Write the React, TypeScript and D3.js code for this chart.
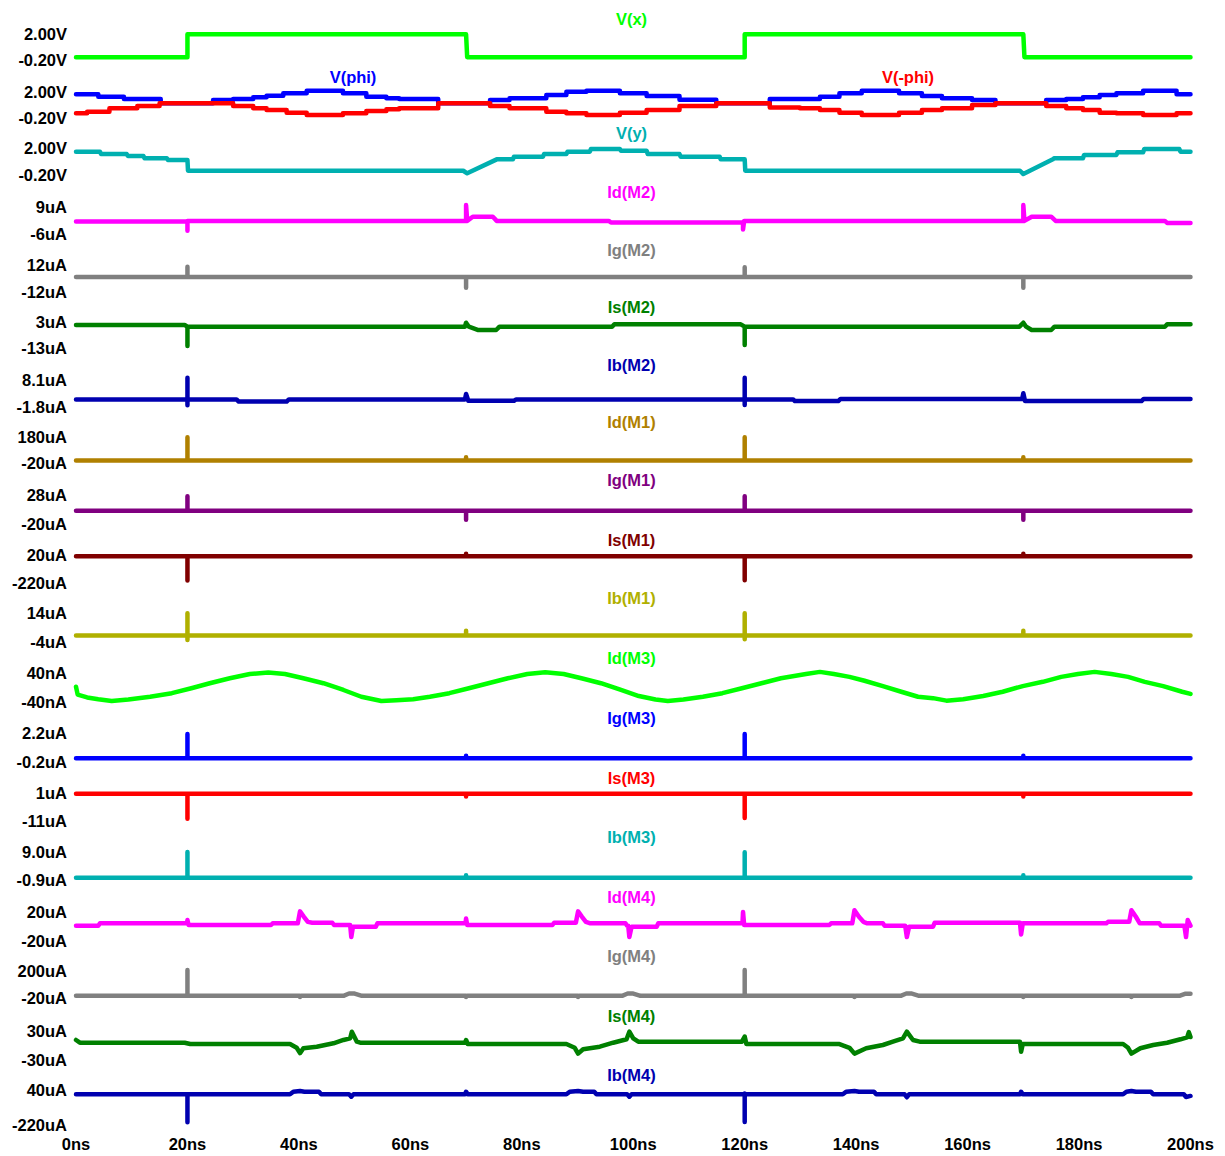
import { useEffect, useRef } from "react";
import * as d3 from "d3";

type Pt = [number, number];

const WIDTH = 1225;
const HEIGHT = 1156;

const TIME_TICKS = [0, 20, 40, 60, 80, 100, 120, 140, 160, 180, 200];
const TIME_LABELS = ["0ns", "20ns", "40ns", "60ns", "80ns", "100ns", "120ns", "140ns", "160ns", "180ns", "200ns"];

// pane ranges (value at top label, value at bottom label)
const PANE_TOP_VALUES = [2, 2, 2, 9, 12, 3, 8.1, 180, 28, 20, 14, 40, 2.2, 1, 9, 20, 200, 30, 40];
const PANE_BOTTOM_VALUES = [-0.2, -0.2, -0.2, -6, -12, -13, -1.8, -20, -20, -220, -4, -40, -0.2, -11, -0.9, -20, -20, -30, -220];
const PANE_TOP_LABELS = ["2.00V", "2.00V", "2.00V", "9uA", "12uA", "3uA", "8.1uA", "180uA", "28uA", "20uA", "14uA", "40nA", "2.2uA", "1uA", "9.0uA", "20uA", "200uA", "30uA", "40uA"];
const PANE_BOTTOM_LABELS = ["-0.20V", "-0.20V", "-0.20V", "-6uA", "-12uA", "-13uA", "-1.8uA", "-20uA", "-20uA", "-220uA", "-4uA", "-40nA", "-0.2uA", "-11uA", "-0.9uA", "-20uA", "-20uA", "-30uA", "-220uA"];

// layout of the stacked panes (pixel rows of the top / bottom labels)
const PANE_TOP_PX = [33.7, 91.7, 148.3, 206.7, 265, 321.7, 380, 436.7, 495, 555, 613.3, 673.3, 732.7, 793.3, 851.7, 911.7, 970.7, 1030.7, 1090];
const PANE_BOTTOM_PX = [60, 118.3, 175, 234, 291.7, 348.3, 406.7, 462.7, 524, 582.7, 641.7, 701.7, 761.7, 820.7, 880, 940.7, 998.3, 1060, 1125];

// series: [time ns, value]
const vX: Pt[] = [[0, 0.03], [20, 0.03], [20, 1.95], [70, 1.95], [70.2, 0.03], [120, 0.03], [120, 1.95], [170, 1.95], [170.2, 0.03], [200, 0.03]];

const vPhi: Pt[] = [[0, 1.78], [4, 1.59], [8.6, 1.4], [15.2, 1.04], [24.6, 1.31], [28.2, 1.4], [31.8, 1.54], [34.2, 1.67], [37.2, 1.87], [41.4, 2.08], [47.9, 1.87], [52.1, 1.59], [55.7, 1.45], [58, 1.4], [65, 1.04], [74.3, 1.31], [77.8, 1.45], [84.4, 1.73], [88, 2.0], [91.6, 2.08], [97.6, 1.87], [102.4, 1.65], [108.3, 1.34], [114.9, 1.04], [124.5, 1.4], [133.5, 1.59], [137, 1.87], [141, 2.08], [147.7, 1.87], [151.8, 1.65], [155.4, 1.45], [160.8, 1.31], [165, 1.04], [174.1, 1.31], [177.7, 1.4], [180.7, 1.54], [183.7, 1.73], [186.7, 1.87], [191.5, 2.08], [197.5, 1.78], [200, 1.78]];

const vNegPhi: Pt[] = [[0, 0.21], [2, 0.35], [6, 0.63], [11, 0.82], [15, 1.04], [28.2, 0.82], [31.8, 0.63], [34.2, 0.49], [37.8, 0.26], [41.4, 0.07], [47.9, 0.21], [52.1, 0.41], [55.7, 0.54], [58, 0.63], [65, 1.04], [74.3, 0.82], [77.8, 0.63], [84.4, 0.35], [88, 0.21], [91.6, 0.07], [97.6, 0.26], [102.4, 0.49], [108.3, 0.82], [114.9, 1.04], [124.5, 0.7], [129.9, 0.63], [133.5, 0.49], [137, 0.26], [141, 0.07], [147.7, 0.26], [151.8, 0.49], [155.4, 0.63], [160.8, 0.9], [165, 1.04], [174.1, 0.82], [177.7, 0.63], [180.7, 0.49], [183.7, 0.26], [186.7, 0.21], [191.5, 0.07], [197.5, 0.21], [200, 0.21]];

const vY: Pt[] = [[0, 1.72], [4.3, 1.72], [4.5, 1.53], [9.1, 1.53], [9.3, 1.37], [12.1, 1.37], [12.3, 1.18], [16.3, 1.18], [16.5, 1.04], [20, 1.04], [20.1, 0.15], [69.5, 0.15], [70.2, -0.06], [75.5, 1.09], [78.4, 1.09], [78.6, 1.31], [83.8, 1.31], [84, 1.53], [88, 1.53], [88.2, 1.72], [92.2, 1.72], [92.4, 1.94], [97.6, 1.94], [97.8, 1.8], [102.4, 1.8], [102.6, 1.53], [108.3, 1.53], [108.5, 1.31], [115.5, 1.31], [115.7, 1.09], [120, 1.09], [120.1, 0.15], [169.4, 0.15], [170, -0.12], [175.3, 1.09], [175.5, 1.18], [180.7, 1.18], [180.9, 1.45], [186.7, 1.45], [186.9, 1.67], [191.5, 1.67], [191.7, 1.94], [198, 1.94], [198.2, 1.72], [200, 1.72]];

const idM2: Pt[] = [[0, 0.8], [20, 0.8], [20, -4.2], [20, 1.2], [70, 1.2], [70, 9.9], [70.2, 1.2], [71.2, 3.5], [74.8, 3.5], [75.5, 1.2], [95.6, 1.2], [96, 0.3], [119.7, 0.3], [119.7, -3.5], [119.9, 1.2], [170, 1.2], [170, 9.9], [170.2, 1.2], [171.5, 3.5], [175, 3.5], [175.8, 1.2], [195.4, 1.2], [195.8, 0.1], [200, 0.1]];

const igM2: Pt[] = [[0, 1.2], [20, 1.2], [20, 10.5], [20, 1.2], [70, 1.2], [70, -8.5], [70, 1.2], [120, 1.2], [120, 10], [120, 1.2], [170, 1.2], [170, -8.5], [170, 1.2], [200, 1.2]];

const isM2: Pt[] = [[0, 1.0], [19.5, 1.0], [20, 0], [20, -11.6], [20, 0], [69.8, 0], [70, 2.4], [70.5, 0], [72.2, -2], [75.4, -2], [76, 0], [96.2, 0], [96.6, 1.4], [119.3, 1.4], [120, 0], [120, -11], [120, 0], [169.3, 0], [170, 2.4], [170.5, 0], [171.5, -2], [175, -2], [175.6, 0], [195.4, 0], [195.8, 1.4], [200, 1.4]];

const ibM2: Pt[] = [[0, 0.9], [20, 0.9], [20, 8.9], [20, -1.3], [20, 0.9], [28.8, 0.9], [29.2, 0.1], [37.8, 0.1], [38.2, 0.9], [69.8, 0.9], [70, 2.9], [70.4, 0.4], [78.6, 0.4], [79, 0.9], [120, 0.9], [120, 8.9], [120, -1.2], [120, 0.9], [128.7, 0.9], [129, 0.3], [136.8, 0.3], [137.2, 1.1], [169.8, 1.1], [170, 3.2], [170.3, 0.3], [191.2, 0.3], [191.6, 1.1], [200, 1.1]];

const idM1: Pt[] = [[0, -3], [20, -3], [20, 175], [20, -3], [70, -3], [70, 22], [70, -3], [120, -3], [120, 175], [120, -3], [170, -3], [170, 22], [170, -3], [200, -3]];

const igM1: Pt[] = [[0, 2], [20, 2], [20, 26], [20, 2], [70, 2], [70, -13], [70, 2], [120, 2], [120, 26], [120, 2], [170, 2], [170, -13], [170, 2], [200, 2]];

const isM1: Pt[] = [[0, 10], [20, 10], [20, -200], [20, 10], [70, 10], [70, 30], [70, 10], [120, 10], [120, -198], [120, 10], [170, 10], [170, 30], [170, 10], [200, 10]];

const ibM1: Pt[] = [[0, 0], [20, 0], [20, 14], [20, -2.9], [20, 0], [70, 0], [70, 3], [70, 0], [120, 0], [120, 14], [120, -2.5], [120, 0], [170, 0], [170, 3], [170, 0], [200, 0]];

// nA
const idM3: Pt[] = [[0, 2], [0.3, -20], [2, -28], [4, -33], [6.4, -38], [9.4, -34], [13.3, -26], [17.2, -16], [20.7, -2], [24, 12], [27.6, 26], [31.2, 38], [34.5, 42], [37.5, 38], [40.8, 26], [44.4, 12], [48, -7], [51.2, -26], [54.8, -38], [57.5, -36], [60.5, -33], [63.5, -26], [67, -16], [70.5, -2], [74, 12], [77.5, 26], [81, 38], [84.2, 43], [87.5, 38], [90.7, 26], [94.2, 12], [97.8, -7], [101, -24], [104, -34], [106.2, -38], [109, -34], [112.5, -26], [116, -16], [119.5, -2], [123, 12], [126.5, 26], [131, 38], [133.5, 44], [136, 38], [138.8, 30], [141.5, 19], [144.8, 4], [148.1, -12], [151.1, -26], [153.8, -30], [156.2, -37], [159.2, -33], [162.8, -24], [166.3, -12], [169.9, 4], [173.5, 16], [176.8, 30], [179.8, 38], [182.8, 44], [185.8, 38], [188.8, 30], [191.8, 16], [195.1, 4], [198.5, -12], [200, -18]];

const igM3: Pt[] = [[0, 0.08], [20, 0.08], [20, 2.1], [20, 0.08], [70, 0.08], [70, 0.3], [70, 0.08], [120, 0.08], [120, 2.1], [120, 0.08], [170, 0.08], [170, 0.3], [170, 0.08], [200, 0.08]];

const isM3: Pt[] = [[0, 0.8], [20, 0.8], [20, -10.1], [20, 0.8], [70, 0.8], [70, -0.4], [70, 0.8], [120, 0.8], [120, -9.8], [120, 0.8], [170, 0.8], [170, -0.4], [170, 0.8], [200, 0.8]];

const ibM3: Pt[] = [[0, -0.1], [20, -0.1], [20, 8.9], [20, -0.1], [70, -0.1], [70, 0.8], [70, -0.1], [120, -0.1], [120, 8.8], [120, -0.1], [170, -0.1], [170, 0.8], [170, -0.1], [200, -0.1]];

const idM4: Pt[] = [[0, 0.7], [4, 0.7], [4.3, 4], [19.9, 4], [20, 8.5], [20.2, 1.7], [35, 1.7], [35.3, 4], [39.8, 4], [40.2, 20.5], [40.9, 13], [41.6, 6], [42.4, 4.8], [46, 4.8], [46.3, 1.7], [49.2, 1.7], [49.4, -15], [49.7, -0.7], [53.8, -0.7], [54.1, 4], [69.9, 4], [70, 10.5], [70.2, 1.7], [85.5, 1.7], [85.8, 4.8], [89.7, 4.8], [90.1, 20.5], [90.8, 13], [91.5, 6], [92.3, 4], [98.6, 4], [98.9, 0.7], [99.1, 0.7], [99.3, -15], [99.7, -0.7], [104.2, -0.7], [104.5, 4], [119.6, 4], [119.7, 19.5], [119.9, 1.7], [135.2, 1.7], [135.5, 4], [139.3, 4], [139.7, 22], [140.5, 13], [141.3, 6], [142, 4], [144.8, 4], [145.1, 0.7], [148.8, 0.7], [149.1, -15], [149.5, -0.7], [153.8, -0.7], [154.1, 4.8], [169.4, 4.8], [169.6, -11.5], [169.9, 4], [184.9, 4], [185.2, 6], [189, 6], [189.4, 22], [190.2, 13], [190.9, 4], [194.4, 4], [194.7, 0.7], [198.9, 0.7], [199.2, -15], [199.5, 8.5], [200, 0.7]];

const igM4: Pt[] = [[0, 0], [20, 0], [20, 205], [20, 0], [40.2, 0], [40.2, -10], [40.4, 0], [48, 0], [49, 18], [50, 18], [51.3, 0], [70, 0], [70, -10], [70.2, 0], [90.1, 0], [90.1, -10], [90.3, 0], [98, 0], [99, 18], [100, 18], [101.3, 0], [120, 0], [120, 205], [120, 0], [139.7, 0], [139.7, -10], [139.9, 0], [148, 0], [149, 18], [150, 18], [151.3, 0], [170, 0], [170, -10], [170.2, 0], [189.4, 0], [189.4, -10], [189.6, 0], [198, 0], [199, 16], [200, 16]];

const isM4: Pt[] = [[0, 11], [0.7, 5.4], [19.5, 5.4], [20.5, 2.7], [38.4, 2.7], [39.6, -5], [40.2, -16], [40.8, -6], [43.2, -2.8], [46.2, 4.2], [48, 11], [49.2, 14.4], [49.5, 28], [50.4, 7.5], [51, 5.4], [69.8, 5.4], [70, 11], [70.3, 2.7], [88, 2.7], [89.5, -5], [90.1, -17], [91, -8], [94, -2.8], [96.4, 5.4], [98.8, 12.4], [99.3, 28], [100, 14.4], [100.9, 7.5], [119.5, 7.5], [120, 18], [120.3, 2.7], [137, 2.7], [138.8, -5], [139.7, -17], [141.8, -6], [144.8, 0.7], [146.6, 7.5], [148.4, 14.4], [149.1, 28], [150.2, 11], [151.4, 7.5], [169.4, 7.5], [169.6, -13], [169.9, 2.7], [187.9, 2.7], [188.8, -5], [189.4, -17], [191, -6], [193.3, 0.7], [195.8, 5.4], [198.2, 12.4], [199.4, 16.4], [199.7, 27], [200, 17]];

const ibM4: Pt[] = [[0, 8], [20, 8], [20, -200], [20, 8], [38.4, 8], [39, 27], [40.2, 32], [41, 27], [43.6, 27], [44, 8], [49, 8], [49.4, -10], [49.8, 8], [69.8, 8], [70, 27], [70.3, 8], [88, 8], [88.6, 27], [90.1, 32], [91, 27], [93, 27], [93.4, 8], [98.9, 8], [99.3, -10], [99.7, 8], [120, 8], [120, -198], [120, 14], [120.2, 8], [137.6, 8], [138.2, 27], [139.7, 32], [140.5, 27], [143.2, 27], [143.6, 8], [148.7, 8], [149.1, -14], [149.5, 8], [169.4, 8], [169.6, 27], [169.9, 8], [187.9, 8], [188.5, 27], [189.4, 33], [190.2, 27], [192.9, 27], [193.3, 8], [198.8, 8], [199.2, -12], [200, -4]];

const TRACES = [
  { name: "V(x)", pane: 0, data: vX, color: "#00ff00", titleX: 631.5, step: false },
  { name: "V(phi)", pane: 1, data: vPhi, color: "#0000ff", titleX: 353, step: true },
  { name: "V(-phi)", pane: 1, data: vNegPhi, color: "#ff0000", titleX: 908, step: true },
  { name: "V(y)", pane: 2, data: vY, color: "#00b0b0", titleX: 631.5, step: false },
  { name: "Id(M2)", pane: 3, data: idM2, color: "#ff00ff", titleX: 631.5, step: false },
  { name: "Ig(M2)", pane: 4, data: igM2, color: "#808080", titleX: 631.5, step: false },
  { name: "Is(M2)", pane: 5, data: isM2, color: "#008000", titleX: 631.5, step: false },
  { name: "Ib(M2)", pane: 6, data: ibM2, color: "#0000b0", titleX: 631.5, step: false },
  { name: "Id(M1)", pane: 7, data: idM1, color: "#b08000", titleX: 631.5, step: false },
  { name: "Ig(M1)", pane: 8, data: igM1, color: "#800080", titleX: 631.5, step: false },
  { name: "Is(M1)", pane: 9, data: isM1, color: "#800000", titleX: 631.5, step: false },
  { name: "Ib(M1)", pane: 10, data: ibM1, color: "#b0b000", titleX: 631.5, step: false },
  { name: "Id(M3)", pane: 11, data: idM3, color: "#00ff00", titleX: 631.5, step: false },
  { name: "Ig(M3)", pane: 12, data: igM3, color: "#0000ff", titleX: 631.5, step: false },
  { name: "Is(M3)", pane: 13, data: isM3, color: "#ff0000", titleX: 631.5, step: false },
  { name: "Ib(M3)", pane: 14, data: ibM3, color: "#00b0b0", titleX: 631.5, step: false },
  { name: "Id(M4)", pane: 15, data: idM4, color: "#ff00ff", titleX: 631.5, step: false },
  { name: "Ig(M4)", pane: 16, data: igM4, color: "#808080", titleX: 631.5, step: false },
  { name: "Is(M4)", pane: 17, data: isM4, color: "#008000", titleX: 631.5, step: false },
  { name: "Ib(M4)", pane: 18, data: ibM4, color: "#0000b0", titleX: 631.5, step: false },
];

const FONT = "'Liberation Sans', Arial, Helvetica, sans-serif";
const FONT_SIZE = 16.5;

const App = () => {
  const svgRef = useRef<SVGSVGElement | null>(null);

  useEffect(() => {
    const svg = d3.select(svgRef.current);
    svg.selectAll("*").remove();

    svg.attr("width", WIDTH).attr("height", HEIGHT).style("background", "#ffffff");

    const x = d3.scaleLinear().domain([0, 200]).range([76, 1190.5]);

    const yScales = PANE_TOP_VALUES.map((top, i) =>
      d3
        .scaleLinear()
        .domain([PANE_BOTTOM_VALUES[i], top])
        .range([PANE_BOTTOM_PX[i], PANE_TOP_PX[i]])
    );

    // y labels (top and bottom of each pane)
    const labels = svg
      .append("g")
      .attr("font-family", FONT)
      .attr("font-weight", "bold")
      .attr("font-size", FONT_SIZE)
      .attr("fill", "#000");
    PANE_TOP_LABELS.forEach((lab, i) => {
      labels
        .append("text")
        .attr("x", 67)
        .attr("y", yScales[i](PANE_TOP_VALUES[i]))
        .attr("text-anchor", "end")
        .attr("dominant-baseline", "central")
        .text(lab);
      labels
        .append("text")
        .attr("x", 67)
        .attr("y", yScales[i](PANE_BOTTOM_VALUES[i]))
        .attr("text-anchor", "end")
        .attr("dominant-baseline", "central")
        .text(PANE_BOTTOM_LABELS[i]);
    });

    // time axis labels
    labels
      .selectAll(".tlabel")
      .data(TIME_TICKS)
      .enter()
      .append("text")
      .attr("class", "tlabel")
      .attr("x", (d) => x(d))
      .attr("y", 1143.5)
      .attr("text-anchor", "middle")
      .attr("dominant-baseline", "central")
      .text((d, i) => TIME_LABELS[i]);

    // traces
    TRACES.forEach((tr) => {
      const yS = yScales[tr.pane];
      const line = d3
        .line<Pt>()
        .x((d) => x(d[0]))
        .y((d) => yS(d[1]))
        .curve(tr.step ? d3.curveStepAfter : d3.curveLinear);

      svg
        .append("path")
        .datum(tr.data)
        .attr("d", line)
        .attr("fill", "none")
        .attr("stroke", tr.color)
        .attr("stroke-width", 4.5)
        .attr("stroke-linecap", "round")
        .attr("stroke-linejoin", "round");

      svg
        .append("text")
        .attr("x", tr.titleX)
        .attr("y", PANE_TOP_PX[tr.pane] - 15)
        .attr("text-anchor", "middle")
        .attr("dominant-baseline", "central")
        .attr("font-family", FONT)
        .attr("font-weight", "bold")
        .attr("font-size", FONT_SIZE)
        .attr("fill", tr.color)
        .text(tr.name);
    });
  }, []);

  return (
    <div style={{ position: "absolute", left: 0, top: 0 }}>
      <svg ref={svgRef}></svg>
    </div>
  );
};

export default App;
